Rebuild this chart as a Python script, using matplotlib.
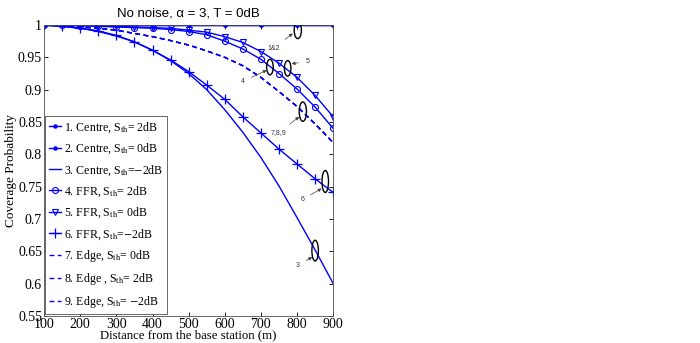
import numpy as np
import matplotlib
matplotlib.use('Agg')
import matplotlib.pyplot as plt
from matplotlib.patches import Ellipse

plt.rcParams['font.family'] = ['Liberation Serif', 'DejaVu Serif']
plt.rcParams['mathtext.fontset'] = 'stix'

# distance samples (m)
dist = [100, 150, 200, 250, 300, 350, 400, 450, 500, 550, 600, 650, 700, 750, 800, 850, 900]
dist_centre = [100, 200, 300, 400, 500, 600, 700, 800, 900]

centre_2dB = [1, 1, 1, 1, 1, 1, 1, 1, 1]
centre_0dB = [1, 1, 1, 1, 1, 1, 1, 1, 1]
centre_m2dB = [1.0, 0.998, 0.995, 0.990, 0.983, 0.974, 0.961, 0.945, 0.925, 0.900,
               0.869, 0.834, 0.795, 0.751, 0.702, 0.652, 0.600]
ffr_2dB = [1.0, 1.0, 0.999, 0.998, 0.997, 0.996, 0.995, 0.993, 0.990, 0.985,
           0.975, 0.963, 0.947, 0.925, 0.901, 0.873, 0.840]
ffr_0dB = [1.0, 1.0, 1.0, 0.999, 0.998, 0.997, 0.996, 0.995, 0.992, 0.989,
           0.982, 0.973, 0.959, 0.941, 0.919, 0.891, 0.858]
ffr_m2dB = [1.0, 0.998, 0.995, 0.991, 0.984, 0.974, 0.961, 0.946, 0.928, 0.907,
            0.885, 0.858, 0.833, 0.808, 0.785, 0.762, 0.741]
edge_0dB = [1.0, 0.999, 0.997, 0.995, 0.992, 0.987, 0.982, 0.976, 0.969, 0.960,
            0.950, 0.937, 0.919, 0.897, 0.874, 0.847, 0.818]
edge_2dB = list(edge_0dB)
edge_m2dB = list(edge_0dB)

labels = [r'1. Centre, S$_{\rm th}$= 2dB',
          r'2. Centre, S$_{\rm th}$= 0dB',
          r'3. Centre, S$_{\rm th}$=$-$2dB',
          r'4. FFR, S$_{\rm th}$= 2dB',
          r'5. FFR, S$_{\rm th}$= 0dB',
          r'6. FFR, S$_{\rm th}$=$-$2dB',
          r'7. Edge, S$_{\rm th}$= 0dB',
          r'8. Edge , S$_{\rm th}$= 2dB',
          r'9. Edge, S$_{\rm th}$= $-$2dB']

# ellipse markers + callouts: (ellipse centre, ellipse w/h, text, text pos, arrow tip)
callouts = [((802, 0.992), (20, 0.026), '1&2', (735, 0.964), (788, 0.987)),
            ((774, 0.933), (18, 0.024), '5', (828, 0.944), (785, 0.940)),
            ((725, 0.935), (18, 0.024), '4', (650, 0.913), (716, 0.930)),
            ((816, 0.866), (20, 0.030), '7,8,9', (748, 0.833), (806, 0.858)),
            ((878, 0.758), (18, 0.034), '6', (814, 0.730), (868, 0.747)),
            ((850, 0.651), (18, 0.032), '3', (802, 0.628), (842, 0.641))]

blue = (0, 0, 1)
fig = plt.figure(figsize=(7, 3.43), dpi=100)
ax = fig.add_axes([0.063, 0.079, 0.413, 0.848])

ax.plot(dist_centre, centre_2dB, '-', marker='.', ms=4.5, color=blue, lw=1)
ax.plot(dist_centre, centre_0dB, '-', marker='.', ms=4.5, color=blue, lw=1)
ax.plot(dist, centre_m2dB, '-', color=blue, lw=1)
ax.plot(dist, ffr_2dB, '-', marker='o', ms=4.3, mfc='none', mew=0.8, color=blue, lw=1)
ax.plot(dist, ffr_0dB, '-', marker='v', ms=4.8, mfc='none', mew=0.8, color=blue, lw=1)
ax.plot(dist, ffr_m2dB, '-', marker='+', ms=6.5, mew=0.9, color=blue, lw=1)
for s in (edge_0dB, edge_2dB, edge_m2dB):
    ax.plot(dist, s, '--', color=blue, lw=1, dashes=(3.5, 2.5))

ax.set_xlim(100, 900)
ax.set_ylim(0.55, 1.0)
ax.set_xticks(range(100, 901, 100))
ax.set_yticks(np.arange(0.55, 1.001, 0.05))
ax.set_yticklabels(['0.55', '0.6', '0.65', '0.7', '0.75', '0.8', '0.85', '0.9', '0.95', '1'])
ax.tick_params(direction='in', top=True, right=True, length=3, width=0.6,
               labelsize=10, pad=1.5)
for sp in ax.spines.values():
    sp.set_linewidth(0.6)
    sp.set_color('0.3')

ax.set_xlabel('Distance from the base station (m)', fontsize=9.2, labelpad=-1)
ax.set_ylabel('Coverage Probability', fontsize=9.5, labelpad=1)
ax.set_title('No noise, α = 3, T = 0dB', fontsize=9.5,
             family=['Liberation Sans', 'DejaVu Sans'], pad=6)

for (c, (w, h), txt, tpos, tip) in callouts:
    ax.add_patch(Ellipse(c, w, h, fill=False, ec='black', lw=1, zorder=5))
    ax.annotate(txt, xy=tip, xytext=tpos, fontsize=5,
                family=['Liberation Sans', 'DejaVu Sans'], color='0.2',
                ha='center', va='center',
                arrowprops=dict(arrowstyle='-|>', color='0.25', lw=0.5,
                                mutation_scale=5, shrinkA=3, shrinkB=0))

leg = ax.legend(labels, loc='lower left', bbox_to_anchor=(0.002, 0.006),
                fontsize=8.6, handlelength=1.05, handletextpad=0.2,
                labelspacing=0.57, borderpad=0.35, borderaxespad=0,
                fancybox=False, framealpha=1)
leg.get_frame().set_edgecolor('0.3')
leg.get_frame().set_linewidth(0.6)

fig.savefig('out.png', dpi=100)
